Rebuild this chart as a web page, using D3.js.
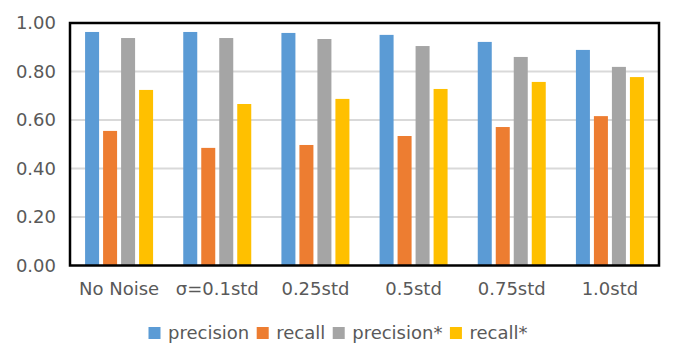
<!DOCTYPE html>
<html>
<head>
<meta charset="utf-8">
<script src="https://cdn.jsdelivr.net/npm/d3@7"></script>
<style>
  body { margin: 0; background: #fff; }
  text { font-family: "DejaVu Sans", sans-serif; fill: #595959; }
</style>
</head>
<body>
<svg id="chart" width="682" height="363"></svg>
<script>
const categories = ["No Noise", "σ=0.1std", "0.25std", "0.5std", "0.75std", "1.0std"];
const seriesNames = ["precision", "recall", "precision*", "recall*"];
const precision = [0.963, 0.963, 0.959, 0.951, 0.922, 0.889];
const recall = [0.555, 0.485, 0.497, 0.534, 0.571, 0.616];
const precisionStar = [0.938, 0.938, 0.934, 0.905, 0.860, 0.819];
const recallStar = [0.724, 0.666, 0.687, 0.728, 0.757, 0.777];
const yTicks = [0, 0.2, 0.4, 0.6, 0.8, 1.0];
const colors = ["#5b9bd5", "#ed7d31", "#a5a5a5", "#ffc000"];

const allSeries = [precision, recall, precisionStar, recallStar];

const svg = d3.select("#chart");
const plotLeft = 70, plotRight = 659, plotTop = 23, plotBottom = 265.5;

const x0 = d3.scaleBand().domain(categories).range([plotLeft, plotRight]).padding(0);
const groupWidth = 68;
const x1 = d3.scaleBand().domain(seriesNames).range([0, groupWidth]).paddingInner(0.222).paddingOuter(0);
const y = d3.scaleLinear().domain([0, 1]).range([plotBottom, plotTop]);

// gridlines
svg.append("g")
  .selectAll("line")
  .data(yTicks.slice(1, -1))
  .join("line")
  .attr("x1", plotLeft)
  .attr("x2", plotRight)
  .attr("y1", (d) => y(d))
  .attr("y2", (d) => y(d))
  .attr("stroke", "#d9d9d9")
  .attr("stroke-width", 2);

// bars
const groups = svg.append("g")
  .selectAll("g")
  .data(categories)
  .join("g")
  .attr("transform", (d) => "translate(" + (x0(d) + (x0.bandwidth() - groupWidth) / 2) + ",0)");

groups.selectAll("rect")
  .data((c, i) => seriesNames.map((s, j) => ({ s: s, j: j, v: allSeries[j][i] })))
  .join("rect")
  .attr("x", (d) => x1(d.s))
  .attr("width", x1.bandwidth())
  .attr("y", (d) => y(d.v))
  .attr("height", (d) => plotBottom - y(d.v))
  .attr("fill", (d) => colors[d.j]);

// frame
svg.append("rect")
  .attr("x", plotLeft)
  .attr("y", plotTop)
  .attr("width", plotRight - plotLeft)
  .attr("height", plotBottom - plotTop)
  .attr("fill", "none")
  .attr("stroke", "#000")
  .attr("stroke-width", 2.5);

// y axis
const yAxis = d3.axisLeft(y).tickValues(yTicks).tickFormat(d3.format(".2f")).tickSize(0).tickPadding(14);
const yg = svg.append("g").attr("transform", "translate(" + plotLeft + ",0)").call(yAxis);
yg.select(".domain").remove();
yg.selectAll("text").style("font-size", "18px").attr("fill", "#595959");

// x axis
const xAxis = d3.axisBottom(x0).tickSize(0).tickPadding(17);
const xg = svg.append("g").attr("transform", "translate(0," + plotBottom + ")").call(xAxis);
xg.select(".domain").remove();
xg.selectAll("text").style("font-size", "18px").attr("fill", "#595959");

// legend
const legend = svg.append("g");
let lx = 148.5;
seriesNames.forEach((name, i) => {
  legend.append("rect")
    .attr("x", lx)
    .attr("y", 327)
    .attr("width", 12)
    .attr("height", 12)
    .attr("fill", colors[i]);
  const t = legend.append("text")
    .attr("x", lx + 19.5)
    .attr("y", 339)
    .style("font-size", "18px")
    .text(name);
  lx += 19.5 + t.node().getComputedTextLength() + 7.5;
});
</script>
</body>
</html>
